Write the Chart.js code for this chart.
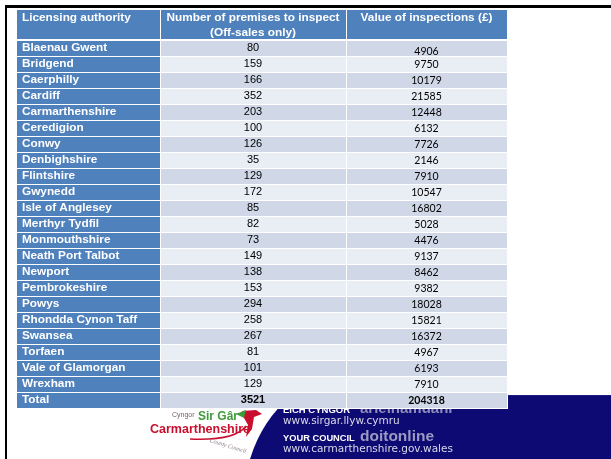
<!DOCTYPE html>
<html><head><meta charset="utf-8">
<script src="https://cdn.jsdelivr.net/npm/chart.js@4"></script>
<style>html,body{margin:0;padding:0;background:#fff;overflow:hidden}#wrap{width:611px;height:459px;position:relative}</style>
</head><body><div id="wrap"><canvas id="c" width="611" height="459"></canvas></div>
<script>
const headers = ["Licensing authority", "Number of premises to inspect", "(Off-sales only)", "Value of inspections (£)"];
const authorities = ["Blaenau Gwent","Bridgend","Caerphilly","Cardiff","Carmarthenshire","Ceredigion","Conwy","Denbighshire","Flintshire","Gwynedd","Isle of Anglesey","Merthyr Tydfil","Monmouthshire","Neath Port Talbot","Newport","Pembrokeshire","Powys","Rhondda Cynon Taff","Swansea","Torfaen","Vale of Glamorgan","Wrexham"];
const premises = [80,159,166,352,203,100,126,35,129,172,85,82,73,149,138,153,294,258,267,81,101,129];
const inspectionValues = [4906,9750,10179,21585,12448,6132,7726,2146,7910,10547,16802,5028,4476,9137,8462,9382,18028,15821,16372,4967,6193,7910];
const totalLabel = "Total";
const totalPremises = 3521;
const totalValue = 204318;

const rowLabels = authorities.concat([totalLabel]);
const rowPremises = premises.concat([totalPremises]);
const rowValues = inspectionValues.concat([totalValue]);

const BLUE = '#4F81BD', ROW_A = '#D0D8E8', ROW_B = '#E9EDF4', NAVY = '#0E0A74';

const backdrop = {
  id: 'backdrop',
  beforeDraw(chart) {
    const ctx = chart.ctx;
    ctx.save();
    ctx.fillStyle = '#fff';
    ctx.fillRect(0, 0, 611, 459);
    ctx.fillStyle = '#000';
    ctx.fillRect(5, 5, 606, 3);
    ctx.fillRect(5, 5, 2, 454);
    ctx.fillStyle = NAVY;
    ctx.beginPath();
    ctx.moveTo(292, 395);
    ctx.lineTo(611, 395);
    ctx.lineTo(611, 459);
    ctx.lineTo(250, 459);
    ctx.quadraticCurveTo(262, 420, 292, 395);
    ctx.closePath();
    ctx.fill();
    ctx.fillStyle = '#1c1a86';
    ctx.fillRect(507, 395, 104, 1);
    ctx.textBaseline = 'middle';
    ctx.textAlign = 'left';
    ctx.fillStyle = '#fff';
    ctx.font = 'bold 9.5px "Liberation Sans", Arial, sans-serif';
    ctx.fillText('EICH CYNGOR', 283, 410);
    ctx.fillStyle = '#8d8cb8';
    ctx.font = 'bold 15px "Liberation Sans", Arial, sans-serif';
    ctx.fillText('arleinamdani', 360, 409);
    ctx.fillStyle = '#d8d8e8';
    ctx.font = '10.5px "DejaVu Sans", sans-serif';
    ctx.fillText('www.sirgar.llyw.cymru', 283, 421);
    ctx.fillStyle = '#fff';
    ctx.font = 'bold 9.3px "Liberation Sans", Arial, sans-serif';
    ctx.fillText('YOUR COUNCIL', 283, 438);
    ctx.fillStyle = '#9b9ac0';
    ctx.font = 'bold 15.5px "Liberation Sans", Arial, sans-serif';
    ctx.fillText('doitonline', 360, 437);
    ctx.fillStyle = '#d8d8e8';
    ctx.font = '10.5px "DejaVu Sans", sans-serif';
    ctx.fillText('www.carmarthenshire.gov.wales', 283, 449);
    // logo
    ctx.fillStyle = '#7a5a6a';
    ctx.font = '7px "Liberation Sans", Arial, sans-serif';
    ctx.fillText('Cyngor', 172, 415);
    ctx.fillStyle = '#3f9b3a';
    ctx.font = 'bold 12px "Liberation Sans", Arial, sans-serif';
    ctx.fillText('Sir Gâr', 198, 417);
    ctx.fillStyle = '#c8102e';
    ctx.font = 'bold 12.5px "Liberation Sans", Arial, sans-serif';
    ctx.fillText('Carmarthenshire', 150, 430);
    ctx.strokeStyle = '#c8102e';
    ctx.lineWidth = 1.5;
    ctx.beginPath();
    ctx.moveTo(190, 439);
    ctx.quadraticCurveTo(235, 441, 246, 426);
    ctx.stroke();
    ctx.fillStyle = '#c8102e';
    ctx.beginPath();
    ctx.moveTo(242, 411); ctx.lineTo(256, 410); ctx.lineTo(262, 414);
    ctx.lineTo(254, 417); ctx.lineTo(252, 429); ctx.lineTo(246, 437);
    ctx.lineTo(248, 425); ctx.lineTo(244, 418); ctx.closePath(); ctx.fill();
    ctx.fillStyle = '#3f9b3a';
    ctx.beginPath();
    ctx.moveTo(236, 414); ctx.lineTo(246, 410); ctx.lineTo(244, 418); ctx.closePath(); ctx.fill();
    ctx.save();
    ctx.translate(228, 446);
    ctx.rotate(0.3);
    ctx.fillStyle = '#8a7a8a';
    ctx.font = 'italic 6px "Liberation Serif", serif';
    ctx.textAlign = 'center';
    ctx.fillText('County Council', 0, 0);
    ctx.restore();
    ctx.restore();
  }
};

const tablePlugin = {
  id: 'tablePlugin',
  afterDatasetsDraw(chart) {
    const ctx = chart.ctx;
    const ys = chart.scales.y;
    const area = chart.chartArea;
    const left = area.left, right = area.right;
    const c1 = left + 143, c2 = left + 329;
    const rowH = ys.getPixelForValue(1) - ys.getPixelForValue(0);
    ctx.save();
    ctx.fillStyle = '#fff';
    ctx.fillRect(left, 10, right - left + 1, area.bottom - 10);
    const hTop = 10, hBot = area.top - 2;
    ctx.fillStyle = BLUE;
    ctx.fillRect(left, hTop, c1 - left, hBot - hTop);
    ctx.fillRect(c1 + 1, hTop, c2 - c1 - 1, hBot - hTop);
    ctx.fillRect(c2 + 1, hTop, right - c2 - 1, hBot - hTop);
    ctx.fillStyle = '#fff';
    ctx.textBaseline = 'middle';
    ctx.font = 'bold 11.8px "Liberation Sans", Arial, sans-serif';
    ctx.textAlign = 'left';
    ctx.fillText(headers[0], left + 5, 18);
    ctx.textAlign = 'center';
    ctx.fillText(headers[1], (c1 + c2) / 2, 18);
    ctx.fillText(headers[2], (c1 + c2) / 2, 33);
    ctx.fillText(headers[3], (c2 + right) / 2, 18);
    rowLabels.forEach((lab, i) => {
      const cy = ys.getPixelForValue(i);
      const top = Math.round(cy - rowH / 2);
      const h = Math.round(rowH) - 1;
      const isTotal = i === rowLabels.length - 1;
      ctx.fillStyle = BLUE;
      ctx.fillRect(left, top, c1 - left, h);
      ctx.fillStyle = i % 2 === 0 ? ROW_A : ROW_B;
      ctx.fillRect(c1 + 1, top, c2 - c1 - 1, h);
      ctx.fillRect(c2 + 1, top, right - c2 - 1, h);
      const ty = top + h / 2 - 0.5;
      ctx.fillStyle = '#fff';
      ctx.textAlign = 'left';
      ctx.font = 'bold 11.8px "Liberation Sans", Arial, sans-serif';
      ctx.fillText(lab, left + 5, ty);
      ctx.fillStyle = '#000';
      ctx.textAlign = 'center';
      ctx.font = (isTotal ? 'bold ' : '') + '11px "Liberation Sans", Arial, sans-serif';
      ctx.fillText(String(rowPremises[i]), (c1 + c2) / 2, ty);
      ctx.font = (isTotal ? 'bold ' : '') + '10.5px Lato, "Open Sans", sans-serif';
      ctx.fillText(String(rowValues[i]), (c2 + right) / 2, ty + (i === 0 ? 4 : 1));
    });
    ctx.restore();
  }
};

new Chart(document.getElementById('c'), {
  type: 'bar',
  data: {
    labels: rowLabels,
    datasets: [{ label: 'Number of premises to inspect', data: rowPremises, backgroundColor: 'rgba(0,0,0,0)', borderWidth: 0 }]
  },
  options: {
    indexAxis: 'y',
    responsive: false,
    animation: false,
    devicePixelRatio: 1,
    layout: { padding: { left: 17, right: 104, top: 41, bottom: 50 } },
    plugins: { legend: { display: false }, tooltip: { enabled: false }, title: { display: false } },
    scales: {
      x: { display: false, min: 0 },
      y: { display: false, offset: true }
    }
  },
  plugins: [backdrop, tablePlugin]
});
</script>
</body></html>
